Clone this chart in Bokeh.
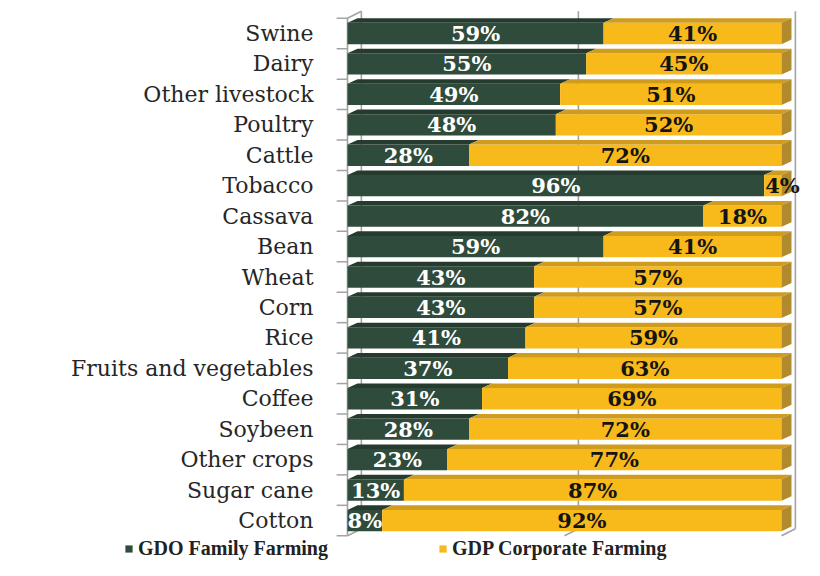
from bokeh.plotting import figure
from bokeh.models import ColumnDataSource, Legend, LegendItem, Range1d
from bokeh.embed import file_html
from bokeh.resources import INLINE
from bokeh.core.properties import value

# ---- data (top to bottom as in the chart) ----
categories = ["Swine", "Dairy", "Other livestock", "Poultry", "Cattle", "Tobacco",
              "Cassava", "Bean", "Wheat", "Corn", "Rice", "Fruits and vegetables",
              "Coffee", "Soybeen", "Other crops", "Sugar cane", "Cotton"]
family_pct = [59, 55, 49, 48, 28, 96, 82, 59, 43, 43, 41, 37, 31, 28, 23, 13, 8]
corporate_pct = [41, 45, 51, 52, 72, 4, 18, 41, 57, 57, 59, 63, 69, 72, 77, 87, 92]
series_names = ["GDO Family Farming", "GDP Corporate Farming"]

# ---- styling ----
GREEN = "#2f4b3b"
GREEN_TOP = "#243b2e"
GOLD = "#f8b91a"
GOLD_TOP = "#cf9c1e"
GOLD_SIDE = "#b08a2c"
WALL = "#a3a3a3"
SERIF = "DejaVu Serif"

n = len(categories)
ys = [n - 1 - i for i in range(n)]
fam = [v / 100 for v in family_pct]
cor = [v / 100 for v in corporate_pct]
ends = [a + b for a, b in zip(fam, cor)]

H = 0.7                   # bar thickness (category units)
DXB, DYB = 0.023, 0.15    # bar depth
DXW, DYW = 0.032, 0.23    # wall depth
TICK = 0.025              # left tick length

p = figure(width=804, height=560, output_backend="svg", toolbar_location=None,
           x_range=Range1d(-0.7995, 1.053), y_range=Range1d(-1.313, 17.084),
           min_border_left=0, min_border_right=0, min_border_top=0, min_border_bottom=0)
p.outline_line_color = None
p.xgrid.visible = False
p.ygrid.visible = False
p.xaxis.visible = False
p.yaxis.visible = False

# ---- walls / grid (3D back wall) ----
lo, hi = -0.5, n - 0.5
grid_x = [0.0, 0.5, 1.0]
x0s = [g + DXW for g in grid_x] + grid_x + [0.0, 0.0]
y0s = [lo + DYW] * 3 + [lo] * 3 + [lo, hi]
x1s = [g + DXW for g in grid_x] + [g + DXW for g in grid_x] + [0.0, DXW]
y1s = [hi + DYW] * 3 + [lo + DYW] * 3 + [hi, hi + DYW]
p.segment(x0=x0s, y0=y0s, x1=x1s, y1=y1s, line_color=WALL, line_width=1.6)
bounds = [k - 0.5 for k in range(n + 1)]
p.segment(x0=[-TICK] * len(bounds), y0=bounds, x1=[0] * len(bounds), y1=bounds,
          line_color=WALL, line_width=1.5)

# ---- bars ----
src = ColumnDataSource(dict(y=ys, fam=fam, cor=cor, end=ends, zero=[0] * n))
r_fam = p.hbar(y="y", left="zero", right="fam", height=H, source=src,
               fill_color=GREEN, line_color=None)
r_cor = p.hbar(y="y", left="fam", right="end", height=H, source=src,
               fill_color=GOLD, line_color=None)

def top_face(lefts, rights):
    xs, yy = [], []
    for l, r, y in zip(lefts, rights, ys):
        t = y + H / 2
        xs.append([l, r, r + DXB, l + DXB])
        yy.append([t, t, t + DYB, t + DYB])
    return xs, yy

xs, yy = top_face([0] * n, fam)
p.patches(xs, yy, fill_color=GREEN_TOP, line_color=None)
xs, yy = top_face(fam, ends)
p.patches(xs, yy, fill_color=GOLD_TOP, line_color=None)
side_x, side_y = [], []
for r, y in zip(ends, ys):
    b, t = y - H / 2, y + H / 2
    side_x.append([r, r + DXB, r + DXB, r])
    side_y.append([b, b + DYB, t + DYB, t])
p.patches(side_x, side_y, fill_color=GOLD_SIDE, line_color=None)

# ---- category labels ----
cat_src = ColumnDataSource(dict(y=ys, x=[0] * n, t=categories))
p.text(x="x", y="y", text="t", source=cat_src, x_offset=-34, text_align="right",
       text_baseline="middle", text_color="#262626", text_font=value(SERIF),
       text_font_size="22px")

# ---- data labels ----
fam_x = [f / 2 for f in fam]
cor_x, cor_align, cor_off = [], [], []
for f, c in zip(fam, cor):
    if c < 0.06:
        cor_x.append(f); cor_align.append("left"); cor_off.append(1)
    else:
        cor_x.append(f + c / 2); cor_align.append("center"); cor_off.append(0)
lab = ColumnDataSource(dict(y=ys, fx=fam_x, cx=cor_x, ca=cor_align, co=cor_off,
                            ft=[f"{v}%" for v in family_pct],
                            ct=[f"{v}%" for v in corporate_pct]))
p.text(x="fx", y="y", text="ft", source=lab, text_align="center", text_baseline="middle",
       text_color="white", text_font=value(SERIF), text_font_style="bold",
       text_font_size="21px")
p.text(x="cx", y="y", text="ct", source=lab, text_align="ca", x_offset="co",
       text_baseline="middle", text_color="#141414", text_font=value(SERIF),
       text_font_style="bold", text_font_size="21px")

legend = Legend(items=[LegendItem(label=series_names[0], renderers=[r_fam]),
                       LegendItem(label=series_names[1], renderers=[r_cor])],
                orientation="horizontal", location=(124, 0),
                border_line_color=None, background_fill_alpha=0,
                label_text_font="serif", label_text_font_style="bold",
                label_text_font_size="20px", label_text_color="#222222",
                glyph_width=9, glyph_height=9, spacing=110, padding=0, margin=0,
                label_standoff=5)
p.add_layout(legend)

open("out.html", "w").write(file_html(p, INLINE))
